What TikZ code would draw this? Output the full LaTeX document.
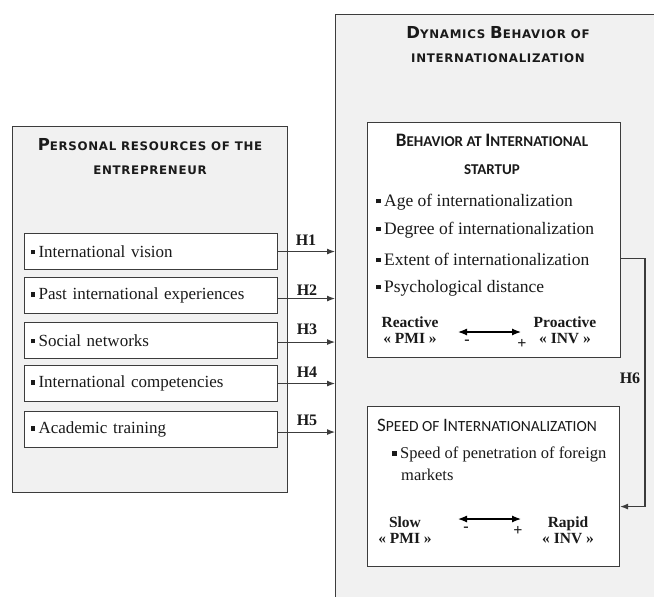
\documentclass[tikz,border=0pt]{standalone}
\usepackage{fontspec}
\setmainfont{Liberation Serif}
\newfontfamily\ttlfont{DejaVu Sans}[LetterSpace=6]
\newfontfamily\subfont{Carlito}
\usetikzlibrary{arrows.meta,calc}
\definecolor{bgg}{HTML}{F1F1F1}
\definecolor{lc}{HTML}{3C3C3C}
\definecolor{tc}{HTML}{1A1A1A}
\newcommand\TBig[1]{{\fontsize{16.5}{18}\selectfont #1}}
\newcommand\SBig[1]{{\fontsize{19}{20}\selectfont #1}}
\newcommand\sqb{\rule[3pt]{4.5pt}{4.5pt}\hspace{3.5pt}}
\begin{document}
\begin{tikzpicture}[x=1pt,y=-1pt,
  line/.style={draw=lc, line width=1.1pt},
  outerbox/.style={line, fill=bgg, anchor=north west, inner sep=0pt},
  innerbox/.style={line, fill=white, anchor=north west, inner sep=0pt},
  itembox/.style={line, fill=white, anchor=north west, minimum height=36pt,
     text width=241pt, align=left, inner xsep=6pt, inner ysep=0pt,
     font=\fontsize{17}{18}\selectfont, text=tc},
  item/.style={anchor=west, inner sep=0pt, font=\fontsize{17.5}{18}\selectfont, text=tc},
  title/.style={align=center, inner sep=0pt, text=tc,
     font=\ttlfont\bfseries\fontsize{11.8}{24}\selectfont},
  sub/.style={inner sep=0pt, text=tc, font=\subfont\fontsize{15.5}{28}\selectfont},
  hlab/.style={inner sep=0pt, text=tc, font=\bfseries\fontsize{16}{17}\selectfont},
  pole/.style={inner sep=0pt, text=tc, align=center, font=\bfseries\fontsize{15.5}{16}\selectfont},
  sign/.style={inner sep=0pt, text=tc, font=\bfseries\fontsize{16}{16}\selectfont},
  arr/.style={line, -{Latex[length=8pt,width=6pt]}},
  darr/.style={line width=1.2pt, draw=black, {Latex[length=9pt,width=7pt]}-{Latex[length=9pt,width=7pt]}}
]
\useasboundingbox (0,0) rectangle (654,597);
\clip (0,0) rectangle (654,597);
\fill[white] (0,0) rectangle (654,597);

% outer boxes
\node[outerbox, minimum width=275pt, minimum height=366pt] (L) at (12,126) {};
\node[outerbox, minimum width=345pt, minimum height=620pt] (R) at (335,14) {};

% titles
\node[title] (tL) at (150,157) {\TBig{P}ERSONAL RESOURCES OF THE\\ENTREPRENEUR};
\node[title] (tR) at (498,45) {\TBig{D}YNAMICS \TBig{B}EHAVIOR OF\\INTERNATIONALIZATION};

% left items
\node[itembox, minimum width=253pt] (b1) at (24,233) {\sqb International vision};
\node[itembox, minimum width=253pt] (b2) at (24,277) {\sqb Past international experiences};
\node[itembox, minimum width=253pt] (b3) at (24,322) {\sqb Social networks};
\node[itembox, minimum width=253pt] (b4) at (24,365) {\sqb International competencies};
\node[itembox, minimum width=253pt] (b5) at (24,411) {\sqb Academic training};

% inner right boxes
\node[innerbox, minimum width=253pt, minimum height=235pt] (B1) at (367,122) {};
\node[innerbox, minimum width=252pt, minimum height=160pt] (B2) at (367,406) {};

% box 1 content
\node[sub, align=center, font=\subfont\bfseries\fontsize{15}{28}\selectfont] (tB1) at (492,154)
   {\SBig{B}EHAVIOR AT \SBig{I}NTERNATIONAL\\STARTUP};
\node[item] (i1) at (376,202) {\sqb Age of internationalization};
\node[item] (i2) at (376,230) {\sqb Degree of internationalization};
\node[item] (i3) at (376,259) {\sqb Extent of internationalization};
\node[item] (i4) at (376,288) {\sqb Psychological distance};
\node[pole] (re) at (410,330) {Reactive\\« PMI »};
\node[pole] (pr) at (565,330) {Proactive\\« INV »};
\coordinate (a1l) at (458,332);
\coordinate (a1r) at (521,332);
\draw[darr] (a1l) -- (a1r);
\node[sign] (m1) at (467,342) {-};
\node[sign] (p1) at (522,344) {+};

% box 2 content
\node[sub, anchor=west] (tB2) at (377,425) {\SBig{S}PEED OF \SBig{I}NTERNATIONALIZATION};
\node[item, align=left, anchor=north west, font=\fontsize{16.5}{22}\selectfont] (j1) at (392,447)
   {\sqb Speed of penetration of foreign\\\hspace{9pt}markets};
\node[pole] (sl) at (405,530) {Slow\\« PMI »};
\node[pole] (ra) at (568,530) {Rapid\\« INV »};
\coordinate (a2l) at (458,519);
\coordinate (a2r) at (521,519);
\draw[darr] (a2l) -- (a2r);
\node[sign] (m2) at (466,529) {-};
\node[sign] (p2) at (518,531) {+};

% hypotheses arrows
\draw[arr] (b1.east) -- (b1.east -| R.west);
\draw[arr] ([yshift=-3pt]b2.east) -- ([yshift=-3pt]b2.east -| R.west);
\draw[arr] ([yshift=-1.5pt]b3.east) -- ([yshift=-1.5pt]b3.east -| R.west);
\draw[arr] (b4.east) -- (b4.east -| R.west);
\draw[arr] ([yshift=-2.5pt]b5.east) -- ([yshift=-2.5pt]b5.east -| R.west);
\node[hlab] (h1) at (306,240) {H1};
\node[hlab] (h2) at (307,290) {H2};
\node[hlab] (h3) at (307,329) {H3};
\node[hlab] (h4) at (307,372) {H4};
\node[hlab] (h5) at (307,420) {H5};

% H6
\coordinate (h6c) at (645,380);
\draw[arr] ([yshift=-18.5pt]B1.east) -| (h6c) |- ([yshift=-20pt]B2.east);
\node[hlab] (h6) at (630,378) {H6};
\end{tikzpicture}
\end{document}
